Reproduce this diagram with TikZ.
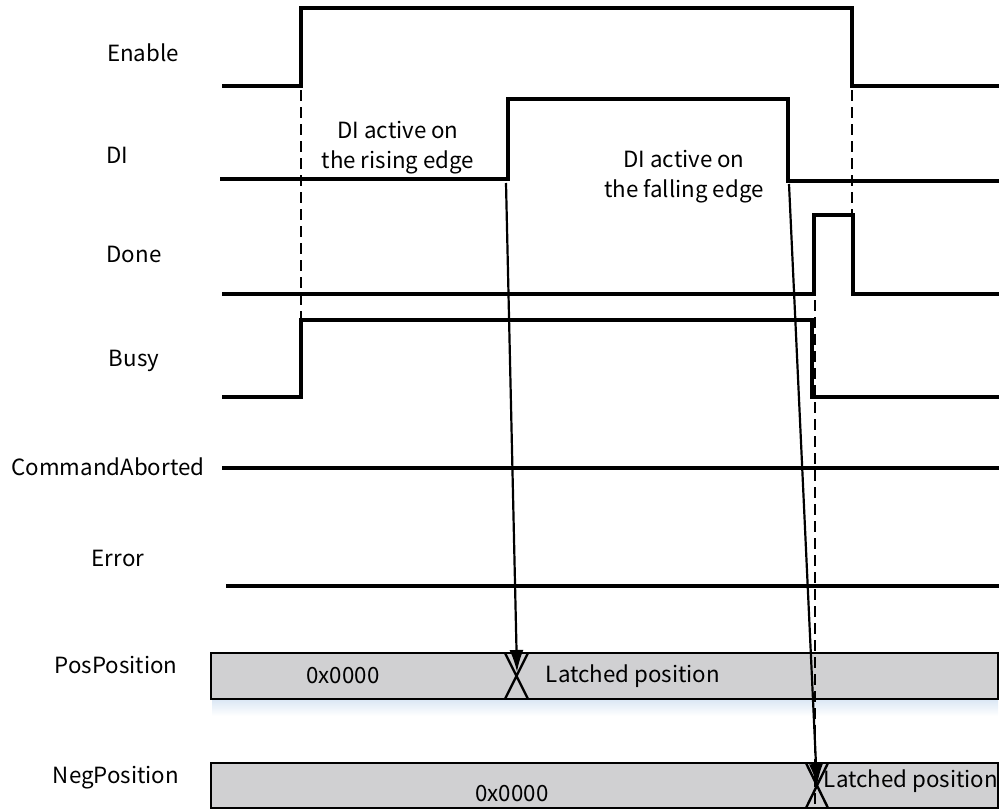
\documentclass[tikz,border=0pt]{standalone}
\usepackage{fontspec}
\setmainfont{Noto Sans CJK SC}
\usetikzlibrary{arrows.meta}
\definecolor{boxgray}{HTML}{D0D0D2}
\definecolor{shadowblue}{HTML}{DCE8F5}
\begin{document}
\begin{tikzpicture}[x=1pt,y=-1pt,
  sig/.style={line width=3.2pt, line join=miter},
  guide/.style={dash pattern=on 11pt off 6pt, line width=2.2pt},
  lbl/.style={font=\fontsize{22.3}{26}\selectfont, inner sep=0pt},
  note/.style={font=\fontsize{22.3}{30}\selectfont, align=center, inner sep=0pt},
  busbox/.style={draw, line width=2.4pt, fill=boxgray},
  cross/.style={line width=2.4pt},
  latch/.style={-{Latex[length=22pt,width=14pt]}, line width=2.2pt}]
\useasboundingbox (0,0) rectangle (999,809);

% signal names
\node[lbl] (nEnable) at (143,53) {Enable};
\node[lbl] (nDI) at (117,155) {DI};
\node[lbl] (nDone) at (134,254) {Done};
\node[lbl] (nBusy) at (134,361) {Busy};
\node[lbl] (nCA) at (108,467) {CommandAborted};
\node[lbl] (nErr) at (118,558) {Error};
\node[lbl] (nPos) at (116,665) {PosPosition};
\node[lbl] (nNeg) at (116,778) {NegPosition};

% shadow below bus box
\shade[top color=shadowblue, bottom color=white] (212,700) rectangle (998,716);

% bus boxes
\draw[busbox] (211,653) rectangle (998,699);
\draw[busbox] (211,763) rectangle (998,808);

% crosses
\draw[cross] (505,653) -- (528,699) (528,653) -- (505,699);
\draw[cross] (806,763) -- (828,808) (828,763) -- (806,808);

% bus texts
\node[lbl] (pos0) at (343,676) {0x0000};
\node[lbl] (posL) at (633,676) {Latched position};
\node[lbl] (neg0) at (512,794) {0x0000};
\node[lbl] (negL) at (911,781) {Latched position};

% waveforms
\draw[sig] (222,86) -- (301,86) -- (301,8) -- (852,8) -- (852,86) -- (999,86);
\draw[sig] (220,179) -- (508,179) -- (508,99) -- (788,99) -- (788,181) -- (999,181);
\draw[sig] (222,294) -- (814,294) -- (814,215) -- (853,215) -- (853,294) -- (999,294);
\draw[sig] (222,397) -- (301,397) -- (301,320) -- (812,320) -- (812,397) -- (999,397);
\draw[sig] (222,468) -- (999,468);
\draw[sig] (226,586) -- (999,586);

% guide lines
\draw[guide] (301,90) -- (301,320);
\draw[guide] (852,90) -- (852,215);
\draw[guide] (815,300) -- (815,806);

% notes
\node[note] (rise) at (398,148) {DI active on\\the rising edge};
\node[note] (fall) at (684,177) {DI active on\\the falling edge};

% latch arrows
\coordinate (a1s) at (506,183);
\coordinate (a1e) at (517,672);
\coordinate (a2s) at (789,184);
\coordinate (a2e) at (817,786);
\draw[latch] (a1s) -- (a1e);
\draw[latch] (a2s) -- (a2e);
\end{tikzpicture}
\end{document}
